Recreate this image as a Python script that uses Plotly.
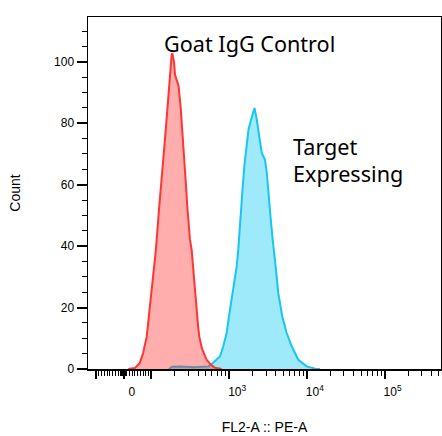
import numpy as np
import plotly.graph_objects as go

# ---- data (FL2-A :: PE-A intensity, Count) ----
RED_PE = [16, 40, 58, 70, 83, 91, 98, 104, 109, 114, 126, 138, 145, 149, 161, 173, 182, 185, 195, 201,
          213, 223, 238, 257, 278, 289, 313, 329, 345, 363, 382, 400, 415, 447, 513, 583, 657, 801]
RED_COUNT = [0, 0.3, 2.0, 5.2, 10.6, 17.1, 22.6, 28.0, 33.4, 38.8, 52.9, 63.9, 68.8, 74.6, 85.2, 97.4, 102.3, 102.8, 100, 95.8,
             93.5, 92.2, 85.0, 74.1, 59.9, 52.9, 42.1, 38.8, 32.3, 25.5, 17.1, 13.4, 10.2, 6.6, 3.0, 1.4, 0.4, 0]

BLUE_PE = [168, 184, 233, 363, 447, 538, 601, 657, 718, 761, 840, 929, 994, 1077, 1163, 1249, 1309, 1398, 1484, 1573,
           1670, 1772, 1880, 1995, 2117, 2246, 2369, 2491, 2620, 2763, 2889, 3038, 3157, 3281, 3451, 3630, 3773, 4003,
           4284, 4825, 5495, 6374, 7752, 9940, 12714, 14747]
BLUE_COUNT = [0, 0.7, 0.85, 0.6, 0.75, 0.85, 1.7, 2.5, 3.4, 4.1, 7.4, 11.7, 17.1, 22.6, 28.0, 33.4, 38.8, 50.2, 58.3, 66.5,
              73.0, 77.9, 80.5, 82.8, 85.0, 81.8, 77.9, 73.0, 70.4, 69.2, 68.1, 64.2, 60.0, 55.1, 47.9, 42.1, 38.8, 32.3,
              24.7, 17.1, 11.7, 7.4, 3.0, 0.85, 0.1, 0]

MAJOR_TICKS = [-100, 0, 100, 1000, 10000, 100000]
MAJOR_LABELS = [" ", "0", " ", "10<sup>3</sup>", "10<sup>4</sup>", "10<sup>5</sup>"]
Y_MAJOR = [0, 20, 40, 60, 80, 100]

LINEAR_WIDTH = 100.0   # linear region half-width
DECADE_UNITS = 2.805   # display units per decade beyond the linear region


def biex(v):
    """Biexponential-like display scale: linear near zero, log beyond."""
    v = np.asarray(v, dtype=float)
    a = np.abs(v)
    log_part = 1 + np.log10(np.maximum(a, LINEAR_WIDTH) / LINEAR_WIDTH) * DECADE_UNITS
    return np.where(a <= LINEAR_WIDTH, v / LINEAR_WIDTH, np.sign(v) * log_part)


minor_vals = []
minor_vals += [-s for s in range(10, 100, 10)] + list(range(10, 100, 10))
minor_vals += [s for s in range(-9, 10) if s != 0]
for dec in (100, 1000, 10000, 100000):
    minor_vals += [m * dec for m in range(2, 10) if m * dec < 600000]
minor_vals = sorted(minor_vals)

fig = go.Figure()
fig.add_trace(go.Scatter(
    x=biex(BLUE_PE), y=BLUE_COUNT, mode="lines", fill="tozeroy",
    line=dict(color="#18c6f2", width=2), fillcolor="rgba(0,200,245,0.38)",
    hoverinfo="skip", showlegend=False))
fig.add_trace(go.Scatter(
    x=biex(RED_PE), y=RED_COUNT, mode="lines", fill="tozeroy",
    line=dict(color="#ff3535", width=2), fillcolor="rgba(255,40,40,0.38)",
    hoverinfo="skip", showlegend=False))

axis_font = dict(family="Liberation Sans, Arial, sans-serif", size=12, color="black")
title_font = dict(family="Liberation Sans, Arial, sans-serif", size=14, color="black")
label_font = dict(family="Noto Sans", size=21.6, color="black")

fig.update_layout(
    width=442, height=436,
    margin=dict(l=88, r=1, t=17, b=66.5),
    paper_bgcolor="white", plot_bgcolor="white",
    xaxis=dict(
        range=[-1.29, 11.45], showgrid=False, zeroline=False, automargin=False,
        showline=True, linecolor="black", linewidth=1.5, mirror=True,
        tickmode="array", tickvals=biex(MAJOR_TICKS).tolist(), ticktext=MAJOR_LABELS,
        ticks="outside", ticklen=8, tickwidth=2, tickcolor="black",
        ticklabelshift=8, ticklabelstandoff=3,
        tickfont=axis_font,
        minor=dict(tickmode="array", tickvals=biex(minor_vals).tolist(), ticks="outside",
                   ticklen=5, tickwidth=1, tickcolor="black", showgrid=False),
        title=dict(text="FL2-A :: PE-A", font=title_font, standoff=24),
        fixedrange=True,
    ),
    yaxis=dict(
        range=[0, 114.6], showgrid=False, zeroline=False, automargin=False,
        showline=True, linecolor="black", linewidth=1.5, mirror=True,
        tickmode="array", tickvals=Y_MAJOR,
        ticks="outside", ticklen=10, tickwidth=2, tickcolor="black",
        tickfont=axis_font,
        minor=dict(dtick=5, tick0=0, ticks="outside", ticklen=5, tickwidth=1, tickcolor="black", showgrid=False),
        title=dict(text="Count", font=title_font, standoff=30),
        fixedrange=True,
    ),
    annotations=[
        dict(text="Goat IgG Control", xref="paper", yref="paper", x=0.2095, y=0.926,
             xanchor="left", yanchor="middle", showarrow=False, align="left", font=label_font),
        dict(text="Target", xref="paper", yref="paper", x=0.5753, y=0.631,
             xanchor="left", yanchor="middle", showarrow=False, align="left", font=label_font),
        dict(text="Expressing", xref="paper", yref="paper", x=0.5753, y=0.555,
             xanchor="left", yanchor="middle", showarrow=False, align="left", font=label_font),
    ],
)

fig.write_html(
    "out.html",
    config={"displayModeBar": False, "staticPlot": True},
    post_script="document.body.style.margin='0';document.body.style.overflow='hidden';",
)
